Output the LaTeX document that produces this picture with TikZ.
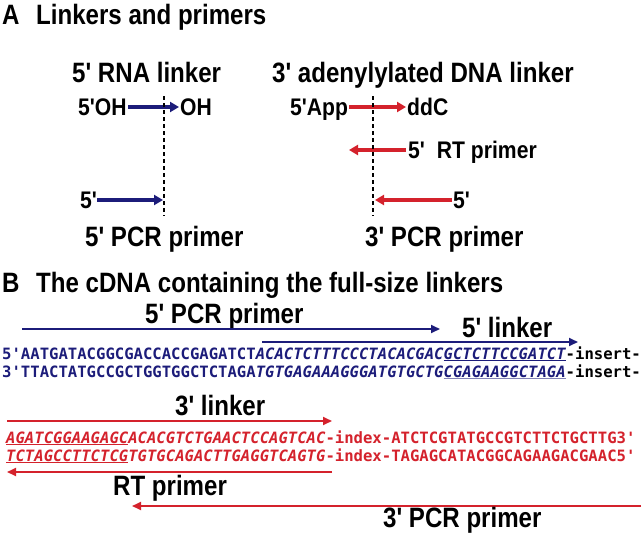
\documentclass[tikz,border=0pt]{standalone}
\usepackage{fontspec}
\usetikzlibrary{arrows.meta}
\newfontfamily\labfont{Liberation Sans}[FakeStretch=0.86]
\newfontfamily\smallfont{Liberation Sans}[FakeStretch=0.88]
\newfontfamily\seqfont{DejaVu Sans Mono}
\definecolor{dnablue}{RGB}{28,28,122}
\definecolor{dnared}{RGB}{212,34,44}
\newcommand{\biglab}{\labfont\bfseries\fontsize{28}{29}\selectfont}
\newcommand{\smalllab}{\smallfont\bfseries\fontsize{24}{25}\selectfont}
\newcommand{\seqtxt}{\seqfont\bfseries\fontsize{15.6}{16}\selectfont}
\tikzset{
  big/.style={inner sep=0pt, anchor=base west, font=\biglab},
  small/.style={inner sep=0pt, anchor=base west, font=\smalllab},
  seqline/.style={inner sep=0pt, anchor=base west, font=\seqtxt},
  fatarrow/.style={line width=3.4pt, -{Triangle[length=9pt,width=10pt]}},
  thinarrow/.style={line width=1.8pt, -{Triangle[length=9pt,width=8pt]}},
  cut/.style={line width=1.2pt, dash pattern=on 4pt off 3pt}
}
\begin{document}
\begin{tikzpicture}[x=1pt,y=-1pt]
\useasboundingbox (0,0) rectangle (642,533);
% ---- A
\node[big] (tA) at (2,24) {A};
\node[big] (tA2) at (36,24) {Linkers and primers};
\node[big] (rna) at (72,82) {5' RNA linker};
\node[big] (dna) at (272,82) {3' adenylylated DNA linker};
\node[small] (oh5) at (78,115) {5'OH};
\node[small] (oh3) at (180,115) {OH};
\coordinate (a1s) at (128,107); \coordinate (a1e) at (179,107);
\draw[fatarrow, dnablue] (a1s) -- (a1e);
\node[small] (app) at (290,115) {5'App};
\node[small] (ddc) at (407,115) {ddC};
\coordinate (a2s) at (349,107); \coordinate (a2e) at (406,107);
\draw[fatarrow, dnared] (a2s) -- (a2e);
\node[small] (rt) at (408,158) {5'\,\,\,RT primer};
\coordinate (a3s) at (406,150); \coordinate (a3e) at (349,150);
\draw[fatarrow, dnared] (a3s) -- (a3e);
\node[small] (p5a) at (80,208) {5'};
\coordinate (a4s) at (97,200); \coordinate (a4e) at (163,200);
\draw[fatarrow, dnablue] (a4s) -- (a4e);
\node[small] (p3a) at (453,208) {5'};
\coordinate (a5s) at (452,200); \coordinate (a5e) at (375,200);
\draw[fatarrow, dnared] (a5s) -- (a5e);
\node[big] (pcr5) at (85,246) {5' PCR primer};
\node[big] (pcr3) at (365,246) {3' PCR primer};
\coordinate (d1t) at (164,96); \coordinate (d1b) at (164,216);
\coordinate (d2t) at (373,96); \coordinate (d2b) at (373,216);
\draw[cut] (d1t) -- (d1b);
\draw[cut] (d2t) -- (d2b);
% ---- B
\node[big] (tB) at (2,292) {B};
\node[big] (tB2) at (36,292) {The cDNA containing the full-size linkers};
\node[big] (bp5) at (145,323) {5' PCR primer};
\coordinate (b1s) at (22,329); \coordinate (b1e) at (440,329);
\draw[thinarrow, dnablue] (b1s) -- (b1e);
\node[big] (bl5) at (462,337) {5' linker};
\coordinate (b2s) at (262,342); \coordinate (b2e) at (578,342);
\draw[thinarrow, dnablue] (b2s) -- (b2e);
\node[seqline, text=dnablue] (s1) at (2,359) {5'AATGATACGGCGACCACCGAGATCT\itshape ACACTCTTTCCCTACACGAC\underline{GCTCTTCCGATCT}\upshape\color{black}-insert-};
\node[seqline, text=dnablue] (s2) at (2,377) {3'TTACTATGCCGCTGGTGGCTCTAGA\itshape TGTGAGAAAGGGATGTGCTG{\color{dnablue!55}\underline{\color{dnablue}CGAGAAGGCTAGA}}\upshape\color{black}-insert-};
\node[big] (bl3) at (175,415) {3' linker};
\coordinate (b3s) at (7,421); \coordinate (b3e) at (332,421);
\draw[thinarrow, dnared] (b3s) -- (b3e);
\node[seqline, text=dnared] (s3) at (6,443) {\itshape\underline{AGATCGGAAGAGC}ACACGTCTGAACTCCAGTCAC\upshape-index-ATCTCGTATGCCGTCTTCTGCTTG3'};
\node[seqline, text=dnared] (s4) at (6,461) {\itshape\underline{TCTAGCCTTCTCG}TGTGCAGACTTGAGGTCAGTG\upshape-index-TAGAGCATACGGCAGAAGACGAAC5'};
\coordinate (b4s) at (332,472); \coordinate (b4e) at (7,472);
\draw[thinarrow, dnared] (b4s) -- (b4e);
\node[big] (brt) at (113,495) {RT primer};
\coordinate (b5s) at (641,506); \coordinate (b5e) at (132,506);
\draw[thinarrow, dnared] (b5s) -- (b5e);
\node[big] (bp3) at (383,527) {3' PCR primer};
\end{tikzpicture}
\end{document}
